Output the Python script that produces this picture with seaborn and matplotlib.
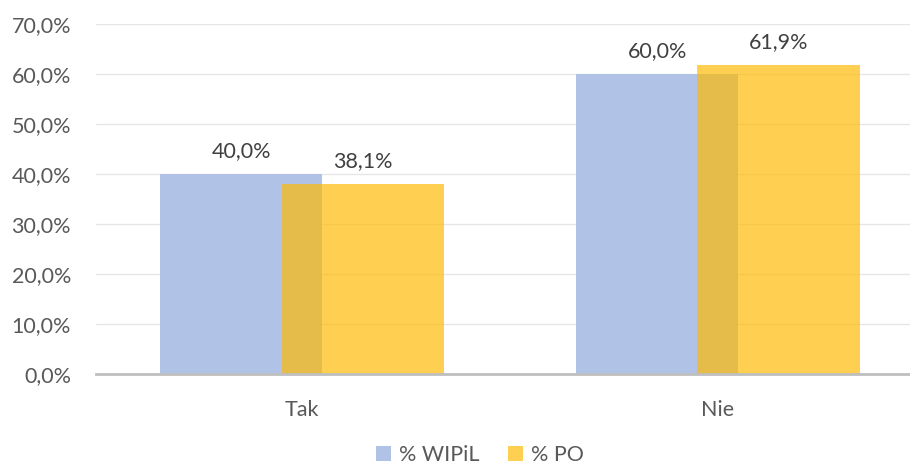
import matplotlib
matplotlib.use("Agg")
import matplotlib.pyplot as plt
import seaborn as sns
import pandas as pd
from matplotlib.patches import Patch

categories = ["Tak", "Nie"]
series = ["% WIPiL", "% PO"]
wipil = [40.0, 60.0]
po = [38.1, 61.9]
yticks = [0, 10, 20, 30, 40, 50, 60, 70]

df = pd.DataFrame({
    "cat": categories * 2,
    "series": [series[0]] * 2 + [series[1]] * 2,
    "val": wipil + po,
})

sns.set_theme(style="white")
plt.rcParams['font.family'] = ['Lato', 'DejaVu Sans']

blue = "#B0C3E6"
yellow = "#FFB900"
yellow_alpha = 0.68
fs = 15.5

fig = plt.figure(figsize=(9.1, 4.68), dpi=100)
ax = fig.add_axes([96/910, 94/468, 814/910, 350/468])

sns.barplot(data=df, x="cat", y="val", hue="series", order=categories,
            hue_order=series, palette=[blue, yellow], width=0.78,
            saturation=1, ax=ax, legend=False, errorbar=None)

# Shift bars toward each other to create overlap
shift = 0.049
for i, p in enumerate(ax.patches):
    if i < 2:
        p.set_x(p.get_x() + shift)
        p.set_zorder(2)
    else:
        p.set_x(p.get_x() - shift)
        p.set_alpha(yellow_alpha)
        p.set_zorder(3)
    p.set_linewidth(0)

for p, v in zip(ax.patches, wipil + po):
    ax.annotate(f"{v:.1f}%".replace(".", ","),
                (p.get_x() + p.get_width() / 2, p.get_height()),
                xytext=(0, 9), textcoords="offset points",
                ha="center", va="bottom", fontsize=fs, color="#404040")

ax.set_ylim(0, 70)
ax.set_xlim(-0.495, 1.462)
ax.set_yticks(yticks)
ax.set_yticklabels([f"{t:.1f}%".replace(".", ",") for t in yticks],
                   fontsize=fs, color="#595959")
ax.tick_params(axis="x", labelsize=fs, labelcolor="#595959", length=0, pad=19)
ax.tick_params(axis="y", length=0, pad=18)
ax.set_xlabel("")
ax.set_ylabel("")
ax.yaxis.grid(True, color="#E6E6E6", linewidth=1)
ax.set_axisbelow(True)
for s in ["top", "right", "left"]:
    ax.spines[s].set_visible(False)
ax.spines["bottom"].set_color("#BFBFBF")
ax.spines["bottom"].set_linewidth(2)
ax.spines["bottom"].set_zorder(5)

handles = [Patch(facecolor=blue, edgecolor="none"),
           Patch(facecolor=yellow, alpha=yellow_alpha, edgecolor="none")]
fig.legend(handles, series, loc="center", bbox_to_anchor=(480/910, 1 - 455/468),
           ncol=2, frameon=False, fontsize=fs, handlelength=0.7, handleheight=0.7,
           handletextpad=0.4, columnspacing=1.3, labelcolor="#595959")

fig.savefig("out.png", dpi=100)
